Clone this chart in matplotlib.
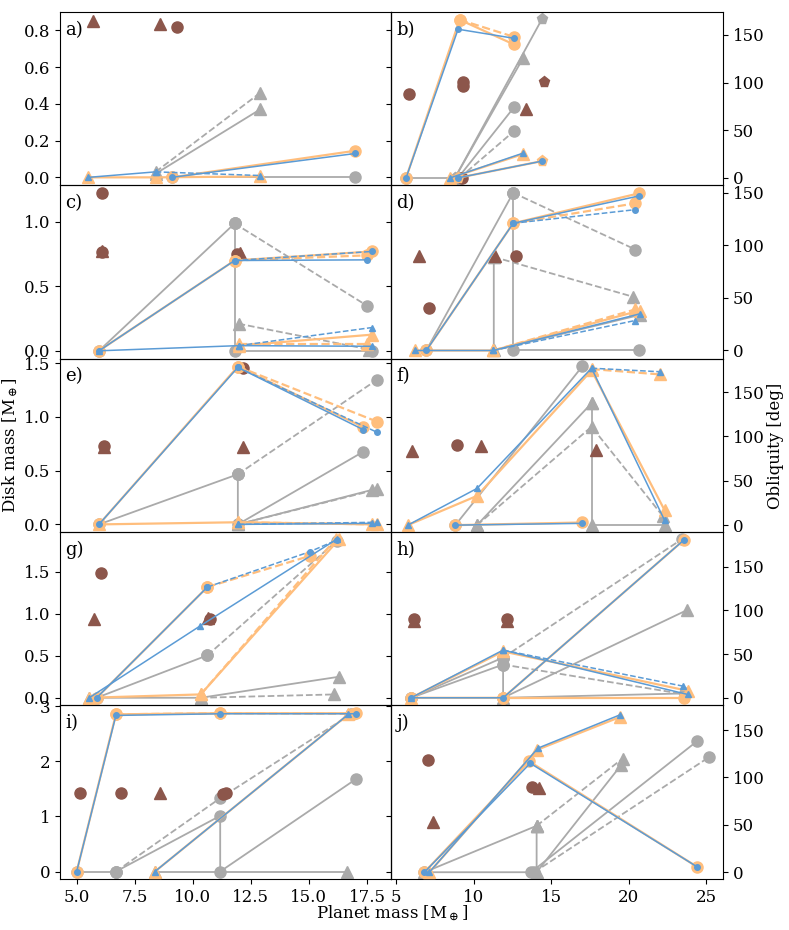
import matplotlib
matplotlib.use("Agg")
import matplotlib.pyplot as plt

plt.rcParams['font.family'] = 'DejaVu Serif'
plt.rcParams['mathtext.fontset'] = 'dejavuserif'
plt.rcParams['font.size'] = 12

GREY = '#aaaaaa'
ORANGE = '#ffbe7d'
BLUE = '#5b9bd5'
BROWN = '#8c564b'

STYLE = {
    'grey': dict(color=GREY, lw=1.3, ms=8, z=2),
    'orange': dict(color=ORANGE, lw=1.6, ms=8, z=4),
    'blue': dict(color=BLUE, lw=1.1, ms=4, z=5),
}

# tracks: (colour, linestyle, marker, planet masses, values)
a_tracks = [
    ('grey', '-', '^', [8.4, 12.9], [0.02, 0.37]),
    ('grey', '--', '^', [8.4, 12.9], [0.03, 0.46]),
    ('grey', '-', 'o', [9.1, 17.0], [0.0, 0.0]),
    ('orange', '-', '^', [5.5, 8.4, 12.9], [0.0, 0.0, 0.005]),
    ('blue', '-', '^', [5.5, 8.4], [0.0, 0.03]),
    ('blue', '--', '^', [8.4, 12.9], [0.03, 0.01]),
    ('orange', '-', 'o', [9.1, 17.0], [0.0, 0.145]),
    ('blue', '-', 'o', [9.1, 17.0], [0.0, 0.13]),
]
a_brown = [(5.69, 0.854, '^'), (8.59, 0.836, '^'), (9.31, 0.818, 'o')]

b_tracks = [
    ('grey', '-', 'o', [5.65, 9.1], [0, 0]),
    ('grey', '-', 'p', [8.8, 14.4], [0, 166.5]),
    ('grey', '-', '^', [8.8, 13.2], [0, 126]),
    ('grey', '-', 'o', [9.0, 12.6], [0, 74]),
    ('grey', '--', 'o', [9.1, 12.6], [0, 49]),
    ('orange', '-', 'o', [5.65, 9.1, 12.6], [0, 166, 140]),
    ('orange', '--', 'o', [9.1, 12.6], [166, 148]),
    ('blue', '-', 'o', [5.65, 9.0, 12.6], [0, 156, 146.5]),
    ('orange', '-', '^', [8.5, 13.2], [0, 25]),
    ('blue', '-', '^', [8.5, 13.2], [0, 26]),
    ('orange', '-', 'p', [9.0, 14.4], [0, 17.5]),
    ('blue', '-', 'o', [9.0, 14.4], [0, 17.5]),
]
b_brown = [(5.82, 87.5, 'o'), (9.3, 100.7, 'o'), (9.3, 96, 'o'),
           (14.54, 100.7, 'p'), (13.37, 72.7, '^'), (9.25, 0, 'o')]

c_tracks = [
    ('grey', '-', 'o', [5.96, 11.8], [0, 0.987]),
    ('grey', '--', 'o', [11.8, 17.5], [0.987, 0.35]),
    ('grey', '-', 'o', [11.8, 11.8, 17.7], [0.987, 0, 0]),
    ('grey', '--', '^', [11.97, 17.6], [0.21, 0.01]),
    ('blue', '-', 'o', [5.96, 11.8, 17.5], [0, 0.70, 0.705]),
    ('blue', '--', 'o', [11.8, 17.7], [0.70, 0.77]),
    ('orange', '-', 'o', [5.96, 11.8, 17.7], [0, 0.70, 0.77]),
    ('orange', '--', 'o', [11.8, 17.5], [0.70, 0.74]),
    ('blue', '-', '^', [5.96, 11.97, 17.7], [0, 0.04, 0.035]),
    ('blue', '--', '^', [11.97, 17.7], [0.04, 0.18]),
    ('orange', '-', '^', [11.97, 17.7], [0.04, 0.125]),
    ('orange', '--', '^', [11.97, 17.5], [0.05, 0.05]),
]
c_brown = [(6.08, 1.225, 'o'), (6.08, 0.765, 'o'), (6.08, 0.775, '^'),
           (11.9, 0.75, 'o'), (12.05, 0.755, '^')]

d_tracks = [
    ('grey', '-', 'o', [6.95, 12.55], [0, 150]),
    ('grey', '--', 'o', [12.55, 20.43], [150, 96]),
    ('grey', '-', 'o', [12.55, 12.55, 20.65], [150, 0, 0]),
    ('grey', '-', '^', [11.3, 11.3, 20.75], [89, 0, 34]),
    ('grey', '--', '^', [11.3, 20.3], [89, 51]),
    ('orange', '-', 'o', [6.95, 12.55, 20.65], [0, 121, 149.5]),
    ('orange', '--', 'o', [12.55, 20.43], [121, 140]),
    ('blue', '-', 'o', [6.95, 12.55, 20.65], [0, 121, 147]),
    ('blue', '--', 'o', [12.55, 20.43], [121, 134]),
    ('orange', '-', '^', [6.25, 11.26, 20.7], [0, 0, 38]),
    ('orange', '--', '^', [11.26, 20.4], [0, 39]),
    ('blue', '-', '^', [6.25, 11.26, 20.75], [0, 0, 35]),
    ('blue', '--', '^', [11.26, 20.4], [0, 28.5]),
]
d_brown = [(6.47, 90, '^'), (7.11, 40.4, 'o'), (11.4, 89.5, '^'), (12.73, 90, 'o')]

e_tracks = [
    ('grey', '-', 'o', [5.96, 11.94], [0, 0.466]),
    ('grey', '--', 'o', [11.94, 17.93], [0.466, 1.345]),
    ('grey', '-', 'o', [11.94, 11.94, 17.35], [0.466, 0.0, 0.677]),
    ('grey', '-', '^', [11.94, 17.7], [0, 0.32]),
    ('grey', '--', '^', [11.94, 17.93], [0, 0.325]),
    ('orange', '-', 'o', [5.96, 11.94, 17.35], [0, 1.468, 0.904]),
    ('orange', '--', 'o', [11.94, 17.93], [1.468, 0.956]),
    ('blue', '-', 'o', [5.96, 11.94, 17.35], [0, 1.46, 0.88]),
    ('blue', '--', 'o', [11.94, 17.93], [1.46, 0.857]),
    ('orange', '-', '^', [5.96, 11.94, 17.7], [0, 0.02, 0.0]),
    ('orange', '--', '^', [11.94, 17.93], [0.02, 0.0]),
    ('blue', '-', '^', [11.94, 17.7], [0, 0.01]),
    ('blue', '--', '^', [11.94, 17.93], [0, 0.02]),
]
e_brown = [(6.19, 0.733, 'o'), (6.19, 0.72, '^'), (12.18, 1.45, 'o'), (12.15, 0.723, '^')]

f_tracks = [
    ('grey', '-', 'o', [8.82, 17.0], [0, 179]),
    ('grey', '-', '^', [10.22, 17.6], [0, 137.5]),
    ('grey', '--', '^', [10.22, 17.6, 22.2], [0, 111, 10]),
    ('grey', '-', '^', [17.6, 17.6, 22.3], [137.5, 0, 0]),
    ('orange', '-', '^', [5.76, 10.22, 17.6, 22.3], [0, 33, 174.5, 17]),
    ('orange', '--', '^', [17.6, 22.0], [176, 170]),
    ('blue', '-', '^', [5.76, 10.22, 17.6, 22.3], [0, 41.4, 177, 5.6]),
    ('blue', '--', '^', [17.6, 22.0], [177, 173]),
    ('orange', '-', 'o', [8.82, 16.97], [0, 3]),
    ('blue', '-', 'o', [8.82, 16.97], [0, 2]),
]
f_brown = [(6.03, 83.6, '^'), (8.96, 90.4, 'o'), (10.47, 89.5, '^'), (17.87, 85, '^')]

g_tracks = [
    ('grey', '-', 'o', [5.86, 10.63], [0, 0.506]),
    ('grey', '--', 'o', [10.63, 16.2], [0.506, 1.87]),
    ('grey', '-', '^', [5.54, 10.34, 16.28], [0, 0, 0.25]),
    ('grey', '--', '^', [10.34, 16.1], [0, 0.04]),
    ('orange', '-', 'o', [5.86, 10.63], [0, 1.32]),
    ('orange', '--', 'o', [10.63, 15.03], [1.32, 1.69]),
    ('blue', '-', 'o', [5.86, 10.63], [0, 1.32]),
    ('blue', '--', 'o', [10.63, 15.03, 16.2], [1.32, 1.74, 1.88]),
    ('blue', '-', '^', [5.54, 10.31, 16.2], [0, 0.855, 1.89]),
    ('orange', '-', '^', [5.54, 10.34, 16.3], [0, 0.04, 1.89]),
    ('orange', '--', '^', [10.34, 16.15], [0.04, 1.89]),
]
g_brown = [(6.05, 1.49, 'o'), (5.76, 0.943, '^'), (10.75, 0.94, 'o'), (10.65, 0.945, '^')]

h_tracks = [
    ('grey', '-', 'o', [5.97, 11.9], [0, 46]),
    ('grey', '-', 'o', [5.97, 11.9], [0, 38]),
    ('grey', '--', 'o', [11.9, 23.4], [46, 181]),
    ('grey', '--', 'o', [11.9, 23.6], [38, 4]),
    ('grey', '-', 'o', [11.9, 11.9, 23.6], [46, 0, 5]),
    ('grey', '-', '^', [11.9, 23.77], [0, 100.4]),
    ('orange', '-', 'o', [5.97, 11.9, 23.56], [0, 0, 180.5]),
    ('orange', '-', 'o', [11.9, 23.56], [0, 0]),
    ('blue', '-', 'o', [5.97, 11.9, 23.56], [0, 0, 180.5]),
    ('orange', '-', '^', [5.97, 11.9, 23.8], [0, 53, 8]),
    ('blue', '-', '^', [5.97, 11.9, 23.8], [0, 54.5, 3.8]),
    ('blue', '--', '^', [11.9, 23.5], [54.5, 13.3]),
]
h_brown = [(6.19, 90.5, 'o'), (6.19, 88, '^'), (12.12, 90.5, 'o'), (12.12, 88, '^')]

i_tracks = [
    ('grey', '-', 'o', [5.0, 6.69], [0, 0]),
    ('grey', '--', 'o', [6.69, 11.18, 16.8], [0, 1.33, 2.85]),
    ('grey', '-', 'o', [6.69, 11.18, 11.18, 17.04], [0, 1.01, 0, 1.68]),
    ('grey', '-', '^', [8.37, 16.64], [0, 0]),
    ('orange', '-', 'o', [5.0, 6.69, 11.18, 17.04], [0, 2.85, 2.87, 2.87]),
    ('orange', '--', 'o', [6.69, 11.18, 16.9], [2.85, 2.87, 2.86]),
    ('blue', '-', 'o', [5.0, 6.69, 11.18, 17.04], [0, 2.83, 2.86, 2.86]),
    ('orange', '-', '^', [8.37, 16.7], [0, 2.85]),
    ('blue', '-', '^', [8.37, 16.7], [0, 2.85]),
]
i_brown = [(5.14, 1.425, 'o'), (6.91, 1.425, 'o'), (8.59, 1.425, '^'),
           (11.44, 1.425, 'o'), (11.3, 1.40, 'o')]

j_tracks = [
    ('grey', '-', '^', [6.83, 14.06], [0, 49]),
    ('grey', '--', '^', [14.06, 19.6], [49, 120]),
    ('grey', '-', '^', [14.06, 14.06, 19.5], [49, 0, 113]),
    ('grey', '-', 'o', [6.83, 13.7, 24.37], [0, 0, 138]),
    ('grey', '--', 'o', [13.9, 25.17], [0, 121.5]),
    ('orange', '-', 'o', [6.83, 13.58, 24.37], [0, 117, 6]),
    ('blue', '-', 'o', [6.83, 13.65, 24.37], [0, 115, 6]),
    ('orange', '-', '^', [7.15, 14.06, 19.41], [0, 129, 163.7]),
    ('blue', '-', '^', [7.15, 14.15, 19.41], [0, 131, 166]),
]
j_brown = [(7.05, 118.7, 'o'), (7.37, 52.5, '^'), (13.74, 89.8, 'o'), (14.23, 88.7, '^')]

panel_labels = ['a)', 'b)', 'c)', 'd)', 'e)', 'f)', 'g)', 'h)', 'i)', 'j)']
panel_tracks = [a_tracks, b_tracks, c_tracks, d_tracks, e_tracks,
                f_tracks, g_tracks, h_tracks, i_tracks, j_tracks]
panel_brown = [a_brown, b_brown, c_brown, d_brown, e_brown,
               f_brown, g_brown, h_brown, i_brown, j_brown]
panel_ylims = [(-0.044, 0.9), (-8, 174), (-0.062, 1.282), (-7.9, 157),
               (-0.072, 1.54), (-7.9, 187.6), (-0.092, 1.974), (-8.8, 189.3),
               (-0.133, 3.01), (-7, 176)]
left_yticks = [[0, 0.2, 0.4, 0.6, 0.8], [0, 0.5, 1.0], [0, 0.5, 1.0, 1.5],
               [0, 0.5, 1.0, 1.5], [0, 1, 2, 3]]
right_yticks = [0, 50, 100, 150]
left_xticks = [5.0, 7.5, 10.0, 12.5, 15.0, 17.5]
right_xticks = [5, 10, 15, 20, 25]


def draw_panel(ax, tracks, brown):
    for colour, ls, marker, xs, ys in tracks:
        st = STYLE[colour]
        ax.plot(xs, ys, color=st['color'], ls=ls, lw=st['lw'], marker=marker,
                ms=st['ms'], zorder=st['z'], clip_on=False)
    for x, y, m in brown:
        ax.plot([x], [y], ls='none', marker=m, color=BROWN, ms=8,
                zorder=3, clip_on=False)


fig = plt.figure(figsize=(7.89, 9.30), dpi=100)
axs = fig.subplots(5, 2, sharex='col', gridspec_kw=dict(hspace=0, wspace=0))
fig.subplots_adjust(left=0.076, right=0.916, top=0.987, bottom=0.055)

for k in range(10):
    row, col = k // 2, k % 2
    ax = axs[row, col]
    ax.set_facecolor('none')
    draw_panel(ax, panel_tracks[k], panel_brown[k])
    ax.set_ylim(*panel_ylims[k])
    ax.text(0.015, 0.95, panel_labels[k], transform=ax.transAxes,
            ha='left', va='top', fontsize=13, zorder=10)
    if col == 0:
        ax.set_xlim(4.28, 18.55)
        ax.set_yticks(left_yticks[row])
        sec = ax.secondary_yaxis('right')
        sec.set_yticks(left_yticks[row])
        sec.tick_params(direction='in', labelright=False)
    else:
        ax.set_xlim(4.7, 26.05)
        ax.set_yticks(right_yticks)
        ax.yaxis.tick_right()
        ax.yaxis.set_label_position('right')
    if row < 4:
        ax.tick_params(axis='x', bottom=False)

axs[4, 0].set_xticks(left_xticks)
axs[4, 1].set_xticks(right_xticks)
axs[2, 0].set_ylabel(r'Disk mass [M$_\oplus$]', labelpad=2)
axs[2, 1].set_ylabel('Obliquity [deg]', labelpad=2)
fig.text(0.497, 0.006, r'Planet mass [M$_\oplus$]', ha='center', va='bottom')

fig.savefig('out.png', dpi=100)
